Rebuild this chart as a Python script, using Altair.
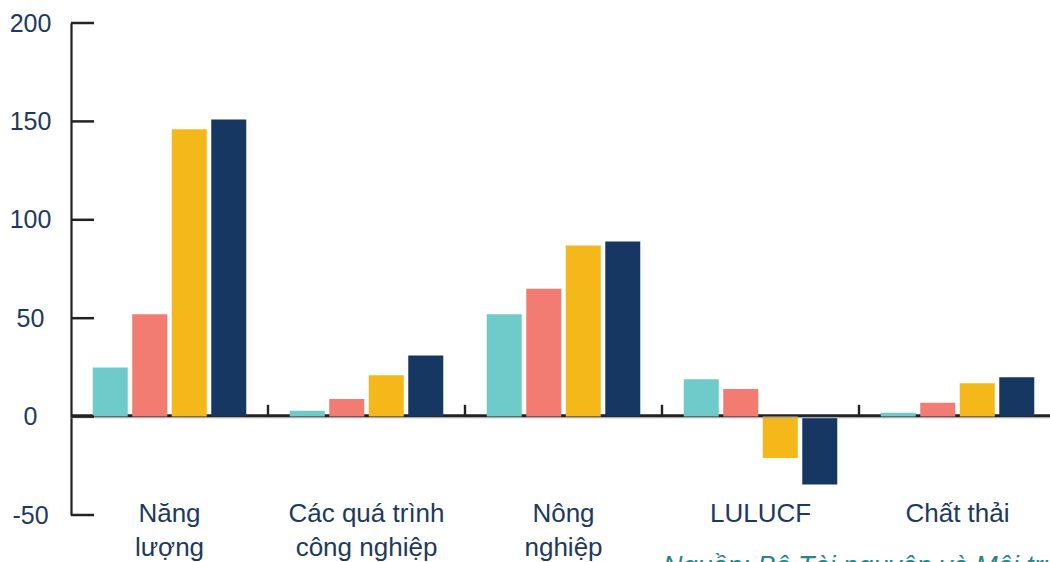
import altair as alt
import pandas as pd

# ---- data ----
categories = ["Năng\nlượng", "Các quá trình\ncông nghiệp", "Nông\nnghiệp", "LULUCF", "Chất thải"]
series = ["1994", "2000", "2010", "2013"]
values_1994 = [25, 3, 52, 19, 2]
values_2000 = [52, 9, 65, 14, 7]
values_2010 = [146, 21, 87, -21, 17]
values_2013 = [151, 31, 89, -34.5, 20]
colors = ["#6fcbc9", "#f27c72", "#f4b81b", "#163762"]
y_ticks = [-50, 0, 50, 100, 150, 200]
source_text = "Nguồn: Bộ Tài nguyên và Môi trường"

FONT = "Liberation Sans"
NAVY_TEXT = "#1d3960"
AXIS_DARK = "#222222"

rows = []
for s, vals in zip(series, [values_1994, values_2000, values_2010, values_2013]):
    for c, v in zip(categories, vals):
        rows.append({"cat": c, "series": s, "value": v})
df = pd.DataFrame(rows)

xscale = alt.Scale(domain=categories, range=[0, 985], paddingInner=0, paddingOuter=0)
yscale = alt.Scale(domain=[-50, 200], nice=False, zero=False)

x_axis = alt.Axis(
    orient="bottom", title=None, domain=False, ticks=False, tickSize=0, grid=False,
    labelAngle=0, labelPadding=6, labelBaseline="alphabetic",
    labelFontSize=26, labelFont=FONT, labelColor=NAVY_TEXT,
    labelLineHeight=34, labelLimit=400,
    labelExpr="split(datum.label, '\\n')",
)
y_axis = alt.Axis(
    orient="left", title=None, grid=False, ticks=False, tickSize=0,
    domain=True, domainColor=AXIS_DARK, domainWidth=2.2,
    values=y_ticks, labelPadding=41, labelAlign="center", labelBaseline="middle",
    labelFontSize=25, labelFont=FONT, labelColor=NAVY_TEXT,
    labelExpr="'' + datum.value",
)

zero_df = pd.DataFrame({"v": [0]})

zero_dark = alt.Chart(zero_df).mark_rule(color=AXIS_DARK, strokeWidth=2.6, yOffset=-1).encode(
    y=alt.Y("v:Q", scale=yscale, axis=y_axis)
)

bars = alt.Chart(df).mark_bar().encode(
    x=alt.X("cat:N", scale=xscale, sort=categories, axis=x_axis),
    xOffset=alt.XOffset("series:N", scale=alt.Scale(domain=series, paddingInner=0.114, paddingOuter=0.55)),
    y=alt.Y("value:Q", scale=yscale, axis=y_axis),
    color=alt.Color("series:N", scale=alt.Scale(domain=series, range=colors), legend=None),
)

zero_grey = alt.Chart(zero_df).mark_rule(color="#aaaaaa", strokeWidth=1.2, yOffset=1).encode(
    y=alt.Y("v:Q", scale=yscale, axis=y_axis)
)

tick_df = pd.DataFrame({"cat": categories[1:], "y0": [0] * 4, "y1": [6] * 4})
x_ticks = alt.Chart(tick_df).mark_rule(color=AXIS_DARK, strokeWidth=2.4).encode(
    x=alt.X("cat:N", scale=xscale, sort=categories, axis=x_axis, bandPosition=0),
    y=alt.Y("y0:Q", scale=yscale, axis=y_axis),
    y2="y1:Q",
)

ytick_df = pd.DataFrame({"v": y_ticks})
y_tick_marks = alt.Chart(ytick_df).mark_rule(color=AXIS_DARK, strokeWidth=2.5).encode(
    y=alt.Y("v:Q", scale=yscale, axis=y_axis),
    x=alt.value(0),
    x2=alt.value(23),
)

src_df = pd.DataFrame({"t": [source_text]})
source = alt.Chart(src_df).mark_text(
    align="left", baseline="alphabetic", fontStyle="italic", fontSize=27,
    font=FONT, color="#2a8585",
).encode(x=alt.value(592), y=alt.value(552), text="t:N")

chart = alt.layer(zero_dark, bars, zero_grey, x_ticks, y_tick_marks, source).properties(
    width=979, height=492,
    background="white",
    autosize=alt.AutoSizeParams(type="none"),
    padding={"left": 71, "top": 23, "right": 0, "bottom": 47},
).configure_view(stroke=None).configure_axis(grid=False)

chart.save("out.html", embed_options={"renderer": "svg", "actions": False})
